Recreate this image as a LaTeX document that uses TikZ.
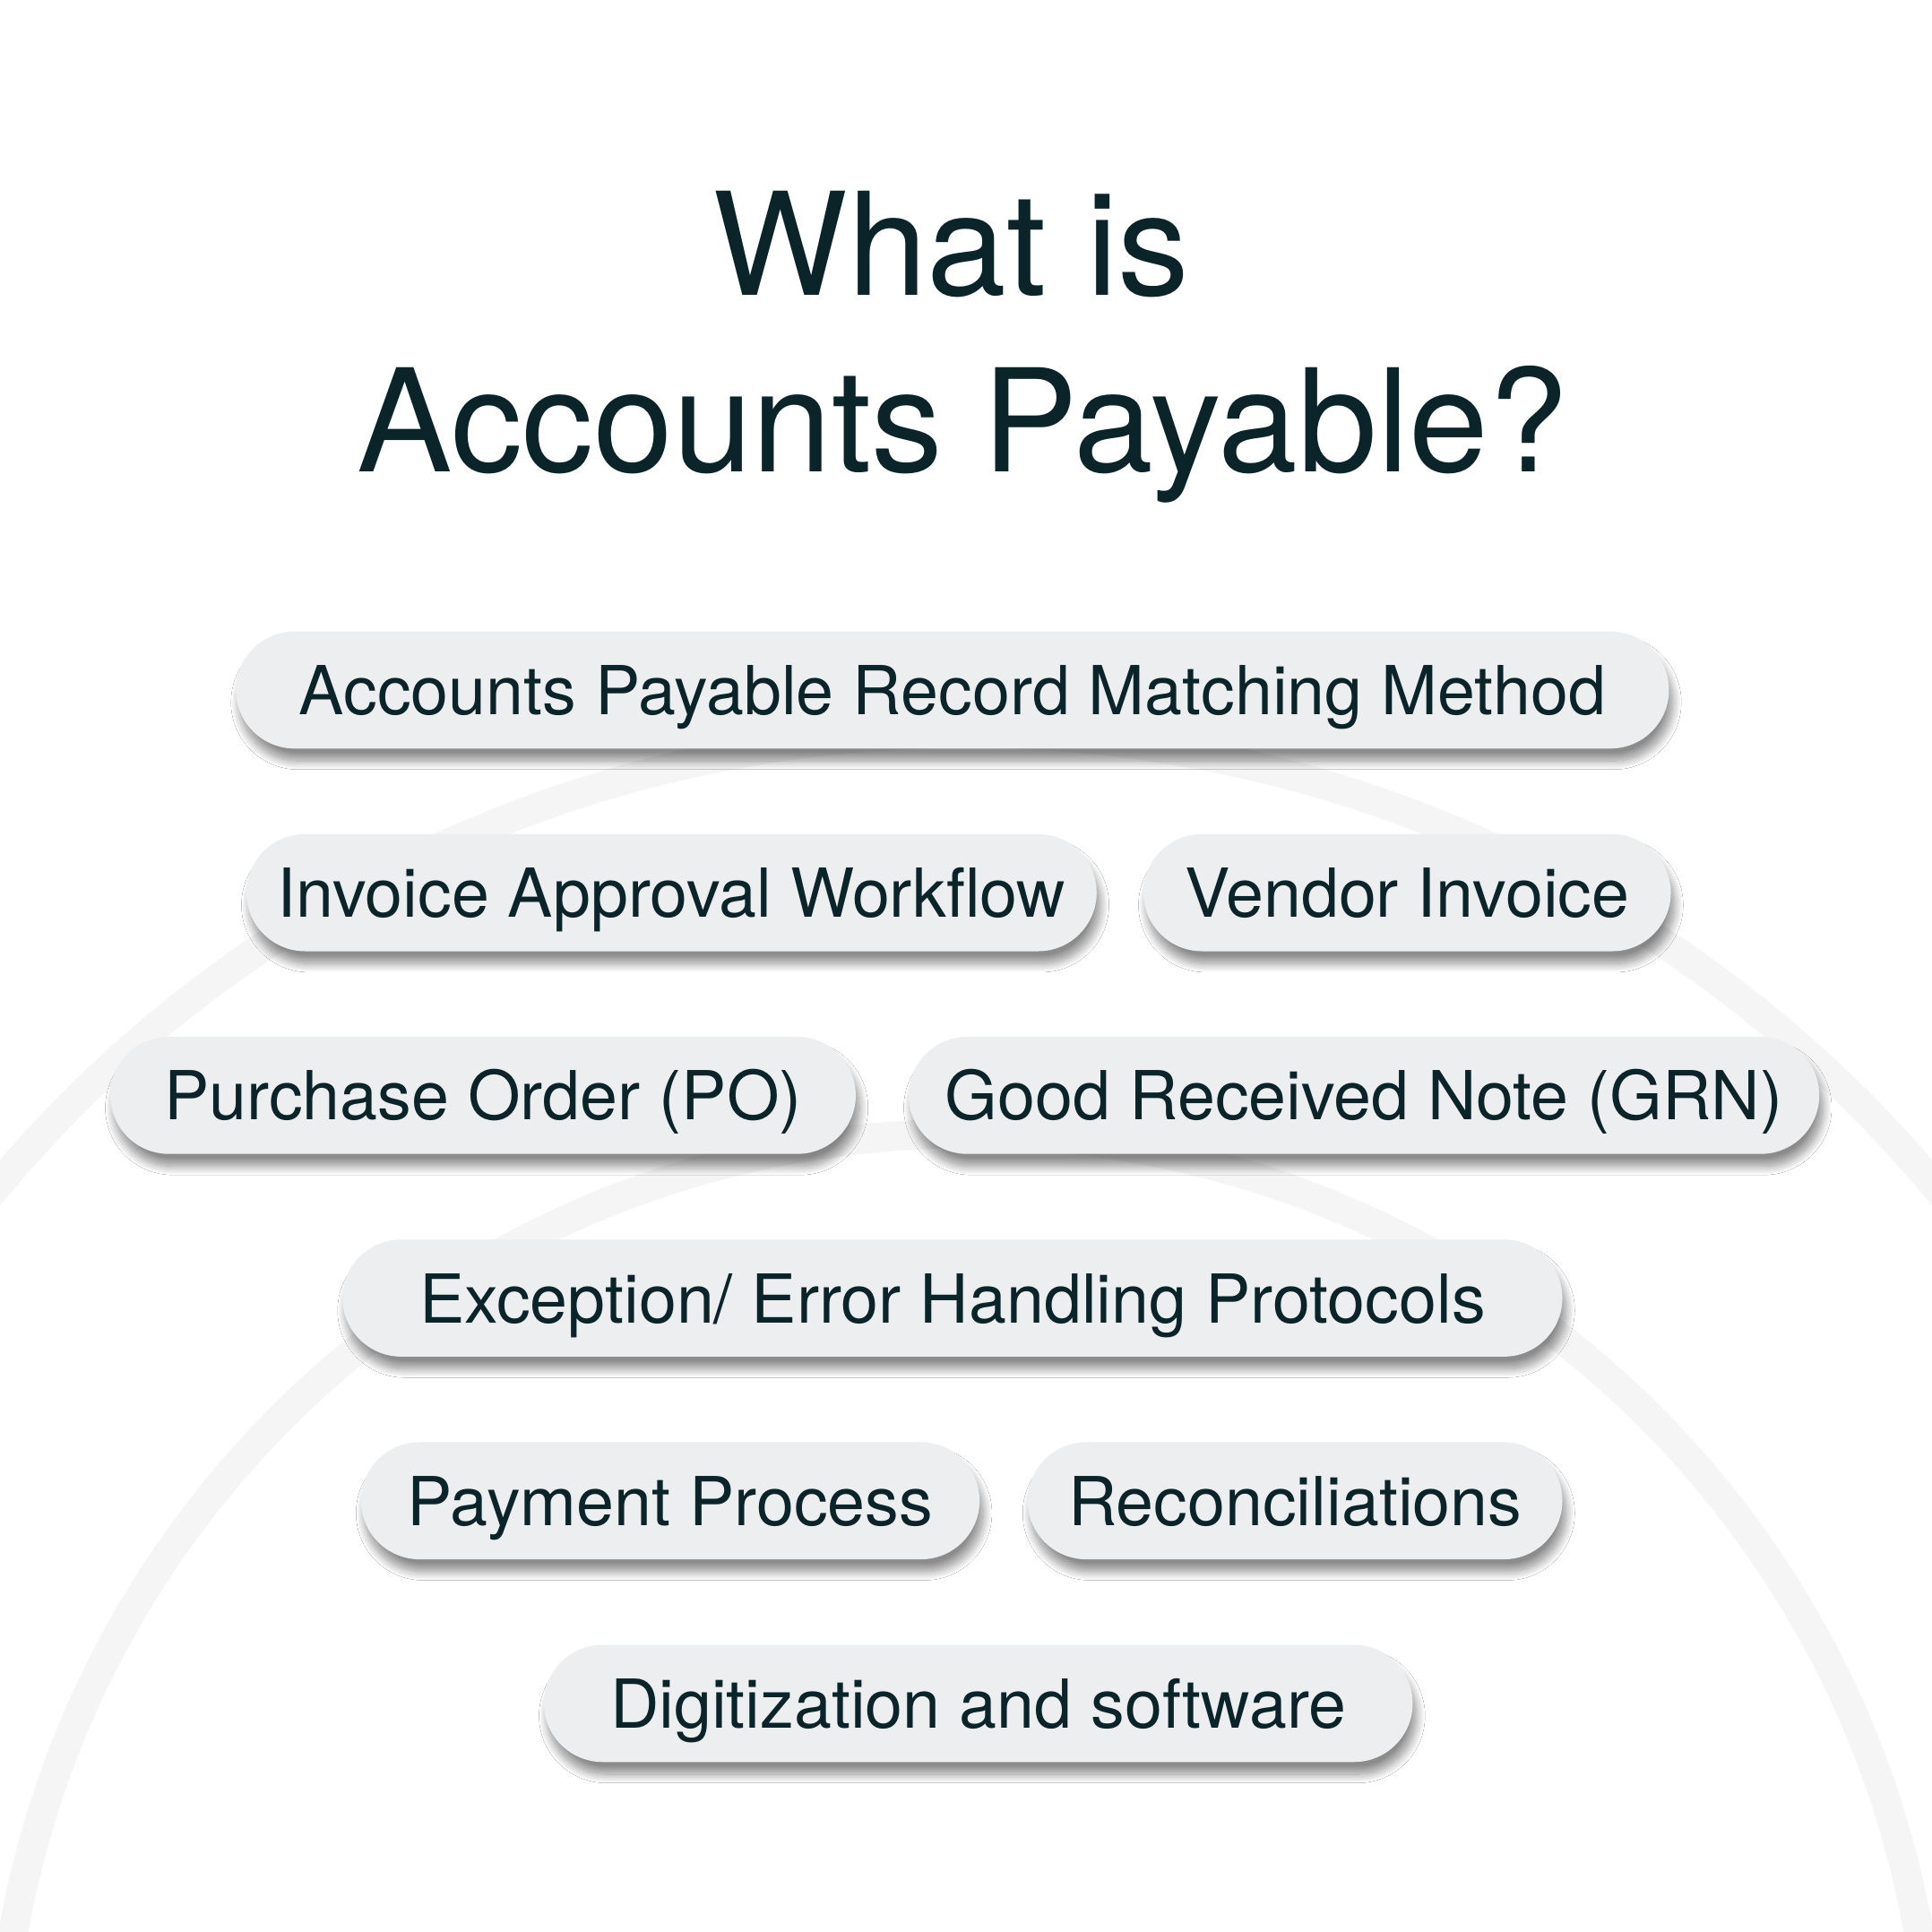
\documentclass[tikz,border=0pt]{standalone}
\usepackage{fontspec}
\setmainfont{TeX Gyre Heros}
\usetikzlibrary{shadows.blur}
\definecolor{inkteal}{HTML}{0B2429}
\definecolor{pillgray}{HTML}{EDEEEF}
\definecolor{ringgray}{HTML}{F5F5F5}
\tikzstyle{heading} = [text=inkteal, font=\fontsize{33}{40}\selectfont, anchor=base, inner sep=0pt]
\tikzstyle{pill} = [rectangle, fill=pillgray, rounded corners=0.475cm, minimum height=0.95cm, inner xsep=0pt, text=inkteal, font=\fontsize{15.6}{18}\selectfont, text height=0.40cm, text depth=0cm, blur shadow={shadow xshift=0.03cm, shadow yshift=-0.10cm, shadow blur radius=0.07cm, shadow blur steps=16, shadow opacity=45}]
\tikzstyle{ring} = [draw=ringgray, line width=0.24cm]

\begin{document}
\begin{tikzpicture}[node distance=1.645cm]

\fill [white] (0,0) rectangle (15.68,-15.68);
\useasboundingbox (0,0) rectangle (15.68,-15.68);

% background rings
\begin{scope}
\clip (0,0) rectangle (15.68,-15.68);
\draw [ring] (7.84,-16.20) circle (10.25);
\draw [ring] (7.84,-17.05) circle (7.85);
\end{scope}

\node (head1)	[heading] at (7.72,-2.40)	{What is};
\node (head2)	[heading] at (7.81,-3.83)	{Accounts Payable?};

\node (match)		[pill, minimum width=11.63cm] at (7.73,-5.60)		{Accounts Payable Record Matching Method};
\node (workflow)	[pill, below of=match, xshift=-2.28cm, minimum width=6.90cm]	{Invoice Approval Workflow};
\node (vendor)		[pill, below of=match, xshift=3.69cm, minimum width=4.28cm]	{Vendor Invoice};
\node (po)			[pill, below of=workflow, xshift=-1.53cm, minimum width=6.05cm]	{Purchase Order (PO)};
\node (grn)		[pill, below of=vendor, xshift=-0.35cm, minimum width=7.39cm]	{Good Received Note (GRN)};
\node (errors)		[pill, below of=po, xshift=3.81cm, minimum width=9.90cm]	{Exception/ Error Handling Protocols};
\node (payment)	[pill, below of=errors, xshift=-2.29cm, minimum width=5.02cm]	{Payment Process};
\node (recon)		[pill, below of=errors, xshift=2.78cm, minimum width=4.34cm]	{Reconciliations};
\node (digital)	[pill, below of=payment, xshift=2.50cm, minimum width=7.05cm]	{Digitization and software};

\end{tikzpicture}
\end{document}
